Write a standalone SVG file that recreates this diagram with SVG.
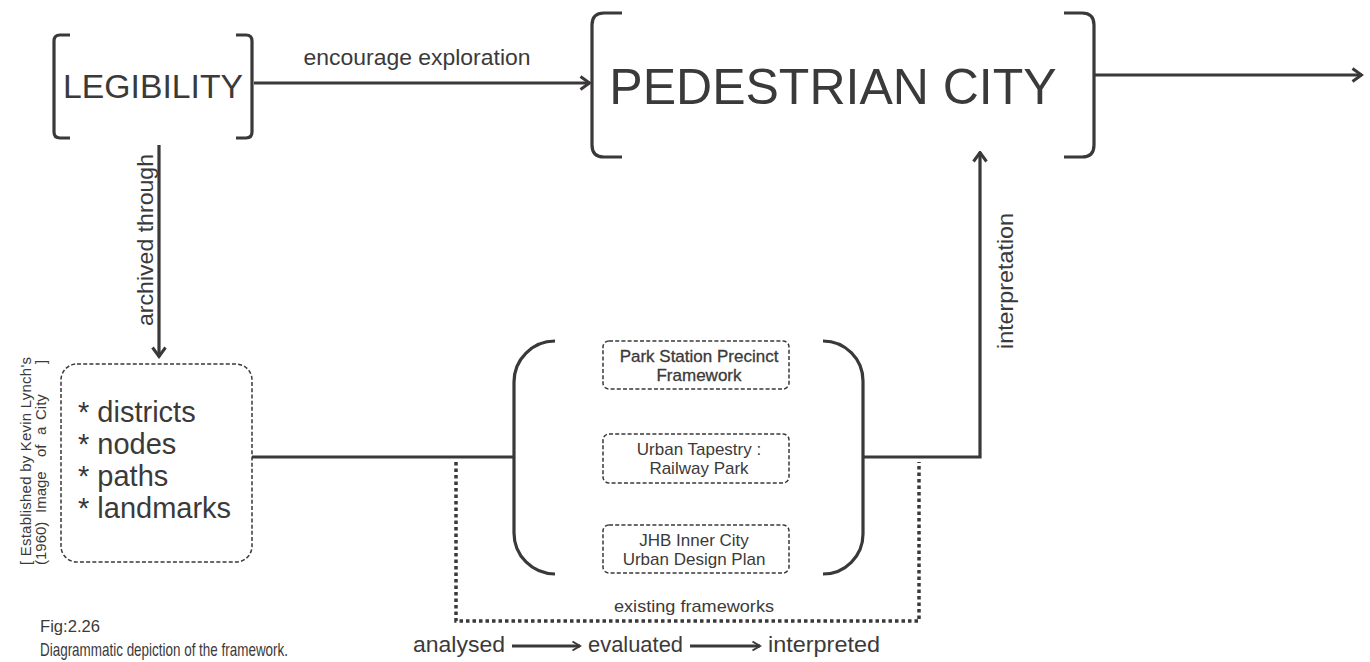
<svg xmlns="http://www.w3.org/2000/svg" width="1370" height="662" viewBox="0 0 1370 662">
<defs>
<marker id="chev" viewBox="0 0 14 16" refX="12.5" refY="8" markerWidth="14" markerHeight="16" markerUnits="userSpaceOnUse" orient="auto">
<path d="M3,1.5 L12,8 L3,14.5" fill="none" stroke="#3a3839" stroke-width="3"/>
</marker>
<marker id="chevs" viewBox="0 0 12 12" refX="10.5" refY="6" markerWidth="12" markerHeight="12" markerUnits="userSpaceOnUse" orient="auto">
<path d="M3,1.5 L10.5,6 L3,10.5" fill="none" stroke="#3a3839" stroke-width="2"/>
</marker>
</defs>
<style>
text{font-family:"Liberation Sans",Arial,sans-serif;fill:#3b3a3a}
.br{fill:none;stroke:#3a3839;stroke-width:3.2}
.ln{fill:none;stroke:#3a3839;stroke-width:3.2}
.dash{fill:none;stroke:#3a3839;stroke-width:1.5;stroke-dasharray:4 2.2}
.dot{fill:none;stroke:#3a3839;stroke-width:3.5;stroke-dasharray:3.5 3}
.fw{font-size:17px;text-anchor:middle}
.note{font-size:15px}
</style>
<rect width="1370" height="662" fill="#ffffff"/>

<g id="connectors">
<line class="ln" x1="254" y1="83" x2="590" y2="83" marker-end="url(#chev)"/>
<line class="ln" x1="1095" y1="75" x2="1362" y2="75" marker-end="url(#chev)"/>
<line class="ln" x1="159" y1="145" x2="159" y2="357" marker-end="url(#chev)"/>
<line class="ln" x1="252" y1="457" x2="514" y2="457"/>
<polyline class="ln" points="863,457 980,457 980,152" marker-end="url(#chev)"/>
<path class="dot" d="M456,462 V621 H919 V462"/>
<line class="ln" x1="512" y1="646" x2="580" y2="646" stroke-width="2" marker-end="url(#chevs)"/>
<line class="ln" x1="690" y1="646" x2="760" y2="646" stroke-width="2" marker-end="url(#chevs)"/>
<text x="417" y="65" font-size="22" text-anchor="middle" textLength="227" lengthAdjust="spacingAndGlyphs">encourage exploration</text>
<text transform="translate(153,240) rotate(-90)" font-size="22" text-anchor="middle" textLength="172" lengthAdjust="spacingAndGlyphs">archived through</text>
<text transform="translate(1013,281) rotate(-90)" font-size="22" text-anchor="middle" textLength="136" lengthAdjust="spacingAndGlyphs">interpretation</text>
<text x="694" y="612" font-size="17" text-anchor="middle" textLength="160" lengthAdjust="spacingAndGlyphs">existing frameworks</text>
</g>

<g id="legibility">
<path class="br" d="M70,35 H60 Q54,35 54,41 V132 Q54,138 60,138 H70"/>
<path class="br" d="M236,35 H246 Q252,35 252,41 V132 Q252,138 246,138 H236"/>
<text x="153" y="98" font-size="33" text-anchor="middle" textLength="180" lengthAdjust="spacingAndGlyphs">LEGIBILITY</text>
</g>

<g id="pedestrian-city">
<path class="br" d="M622,13 H604 Q592,13 592,25 V145 Q592,157 604,157 H622"/>
<path class="br" d="M1064,13 H1082 Q1094,13 1094,25 V145 Q1094,157 1082,157 H1064"/>
<text x="833" y="104" font-size="50" text-anchor="middle">PEDESTRIAN CITY</text>
</g>

<g id="elements">
<rect class="dash" x="61" y="364" width="191" height="198" rx="16"/>
<text x="78" y="422" font-size="29">* districts</text>
<text x="78" y="454" font-size="29">* nodes</text>
<text x="78" y="486" font-size="29">* paths</text>
<text x="78" y="518" font-size="29">* landmarks</text>
</g>

<g id="lynch-note">
<text class="note" transform="translate(31,565) rotate(-90)" textLength="208" lengthAdjust="spacing">[ Established by Kevin Lynch's</text>
<g transform="translate(46,0) rotate(-90)">
<text class="note" x="-565" y="0">(1960)</text>
<text class="note" x="-513" y="0">Image</text>
<text class="note" x="-457" y="0">of</text>
<text class="note" x="-435" y="0">a</text>
<text class="note" x="-420" y="0">City</text>
<text class="note" x="-364" y="0">]</text>
</g>
</g>

<g id="frameworks">
<path class="br" d="M555,341 A41,41 0 0 0 514,382 V533 A41,41 0 0 0 555,574"/>
<path class="br" d="M823,341 A40,40 0 0 1 863,381 V534 A40,40 0 0 1 823,574"/>
</g>

<g id="fw-park-station">
<rect class="dash" x="603" y="341" width="186" height="48" rx="6"/>
<text class="fw" x="699" y="362" stroke="#3b3a3a" stroke-width="0.3">Park Station Precinct</text>
<text class="fw" x="699" y="381" stroke="#3b3a3a" stroke-width="0.3">Framework</text>
</g>

<g id="fw-urban-tapestry">
<rect class="dash" x="603" y="434" width="186" height="49" rx="6"/>
<text class="fw" x="699" y="455">Urban Tapestry :</text>
<text class="fw" x="699" y="474">Railway Park</text>
</g>

<g id="fw-jhb">
<rect class="dash" x="603" y="525" width="186" height="48" rx="6"/>
<text class="fw" x="694" y="546">JHB Inner City</text>
<text class="fw" x="694" y="565">Urban Design Plan</text>
</g>

<g id="process">
<text x="413" y="652" font-size="22" textLength="92" lengthAdjust="spacingAndGlyphs">analysed</text>
<text x="588" y="652" font-size="22" textLength="95" lengthAdjust="spacingAndGlyphs">evaluated</text>
<text x="768" y="652" font-size="22" textLength="112" lengthAdjust="spacingAndGlyphs">interpreted</text>
</g>

<g id="caption">
<text x="40" y="632" font-size="17" textLength="60" lengthAdjust="spacingAndGlyphs">Fig:2.26</text>
<text x="40" y="656" font-size="19" textLength="248" lengthAdjust="spacingAndGlyphs">Diagrammatic depiction of the framework.</text>
</g>
</svg>
